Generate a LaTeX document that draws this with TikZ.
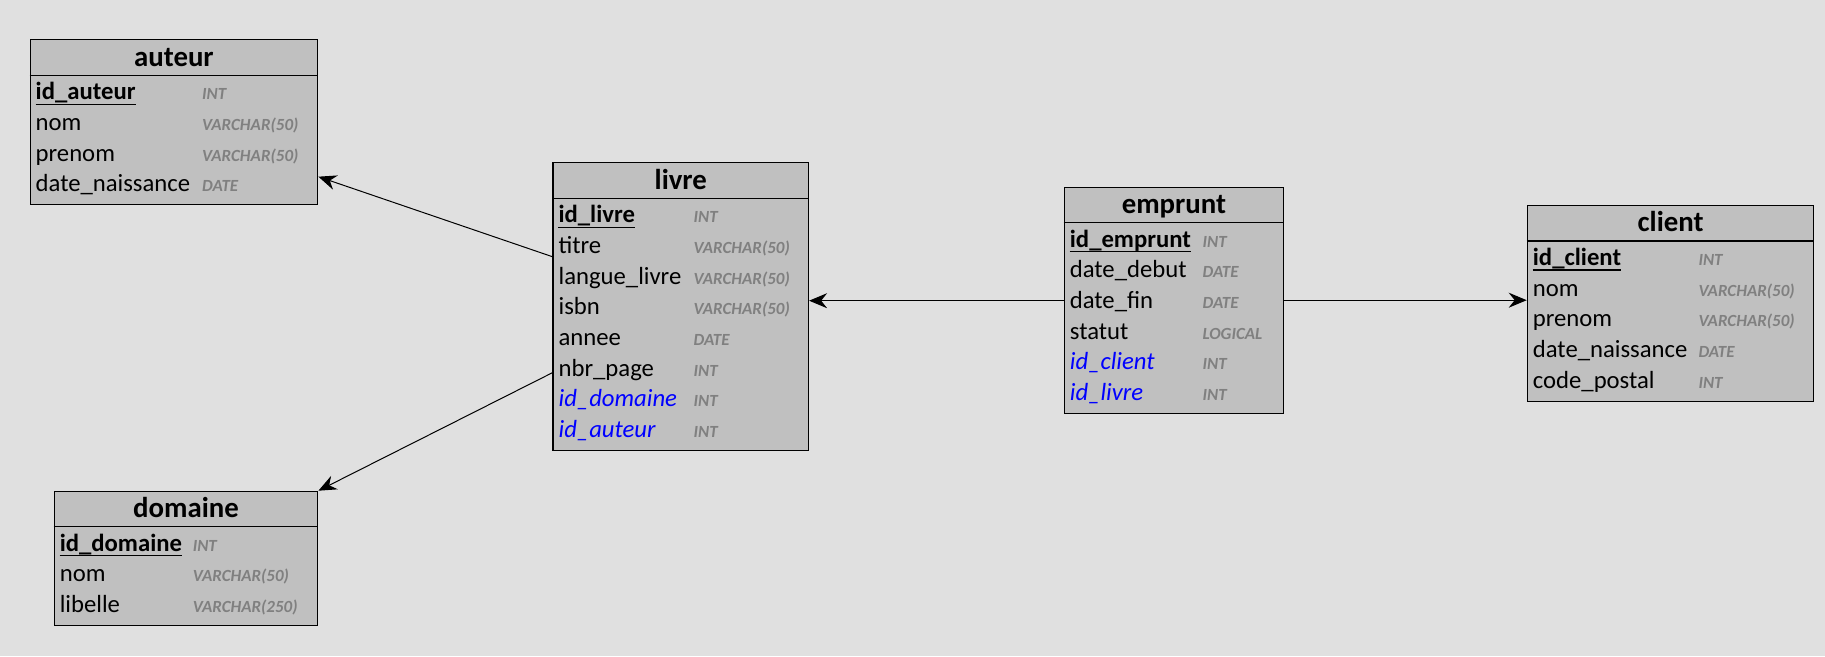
\documentclass[tikz,border=0pt]{standalone}
\usepackage{fontspec}
\setmainfont{Carlito}
\usepackage{tikz}
\usetikzlibrary{calc,arrows.meta}
\definecolor{fond}{HTML}{E0E0E0}
\definecolor{gristable}{HTML}{C0C0C0}
\definecolor{gristype}{HTML}{808080}
\definecolor{bleufk}{HTML}{0000FF}
\tikzset{table/.style={
    draw=black,
    line width=1.1pt,
    fill=gristable,
    anchor=north west,
    inner sep=0pt}}
\tikzset{separation/.style={
    draw=black,
    line width=1.1pt}}
\tikzset{titre/.style={
    font=\fontsize{28.8}{32}\selectfont\bfseries,
    anchor=base,
    inner sep=0pt}}
\tikzset{champ/.style={
    font=\fontsize{24.7}{28}\selectfont,
    anchor=base west,
    inner sep=0pt}}
\tikzset{cle/.style={
    champ,
    font=\fontsize{24.7}{28}\selectfont\bfseries}}
\tikzset{etranger/.style={
    champ,
    text=bleufk,
    font=\fontsize{24.7}{28}\selectfont\itshape}}
\tikzset{type/.style={
    font=\fontsize{17}{20}\selectfont\bfseries\itshape,
    text=gristype,
    anchor=base west,
    inner sep=0pt}}
\tikzset{souligne/.style={
    draw=black,
    line width=1.5pt}}
\tikzset{lien/.style={
    draw=black,
    line width=1pt,
    -{Stealth[length=18pt,width=15pt,inset=6pt]}}}

% boite : nom, coin, largeur, hauteur, titre
\newcommand{\boite}[5]{%
  \node[table,minimum width=#3pt,minimum height=#4pt] (#1) at (#2) {};
  \draw[separation] ($(#1.north west)+(0,36)$) -- ($(#1.north east)+(0,36)$);
  \node[titre] (#1-titre) at ($(#1.north)+(0,26.7)$) {#5};}
% colonnes : table, decalage du type, premier rang, style, liste
\newcommand{\colonnes}[5]{%
  \foreach \champ/\typ [count=\i from #3] in {#5}{
    \node[#4] (#1-c\i) at ($(#1.north west)+(6,60.3+\i*30.7)$) {\champ};
    \node[type] (#1-t\i) at ($(#1.north west)+(#2,60.3+\i*30.7)$) {\typ};}}
\newcommand{\cle}[1]{%
  \draw[souligne] ($(#1-c0.base west)+(0,4.7)$) -- ($(#1-c0.base east)+(0,4.7)$);}

\begin{document}
\begin{tikzpicture}[x=1pt,y=-1pt]
\fill[fond] (0,0) rectangle (1825,656);

\coordinate (A) at (29.5,39.3);
\coordinate (L) at (552.4,162.3);
\coordinate (E) at (1063.7,186.7);
\coordinate (C) at (1526.7,205);
\coordinate (D) at (53.6,490.7);

% auteur
\boite{auteur}{A}{287.8}{164.9}{auteur}
\colonnes{auteur}{172.5}{0}{cle}{id\_auteur/INT}
\cle{auteur}
\colonnes{auteur}{172.5}{1}{champ}{nom/VARCHAR(50),prenom/VARCHAR(50),date\_naissance/DATE}

% livre
\boite{livre}{L}{255.6}{287.7}{livre}
\colonnes{livre}{141}{0}{cle}{id\_livre/INT}
\cle{livre}
\colonnes{livre}{141}{1}{champ}{titre/VARCHAR(50),langue\_livre/VARCHAR(50),isbn/VARCHAR(50),annee/DATE,nbr\_page/INT}
\colonnes{livre}{141}{6}{etranger}{id\_domaine/INT,id\_auteur/INT}

% emprunt
\boite{emprunt}{E}{219.3}{226.3}{emprunt}
\colonnes{emprunt}{138.7}{0}{cle}{id\_emprunt/INT}
\cle{emprunt}
\colonnes{emprunt}{138.7}{1}{champ}{date\_debut/DATE,date\_fin/DATE,statut/LOGICAL}
\colonnes{emprunt}{138.7}{4}{etranger}{id\_client/INT,id\_livre/INT}

% client
\boite{client}{C}{286.6}{195.6}{client}
\colonnes{client}{171.6}{0}{cle}{id\_client/INT}
\cle{client}
\colonnes{client}{171.6}{1}{champ}{nom/VARCHAR(50),prenom/VARCHAR(50),date\_naissance/DATE,code\_postal/INT}

% domaine
\boite{domaine}{D}{263.7}{134.2}{domaine}
\colonnes{domaine}{139}{0}{cle}{id\_domaine/INT}
\cle{domaine}
\colonnes{domaine}{139}{1}{champ}{nom/VARCHAR(50),libelle/VARCHAR(250)}

% liens
\coordinate (livre-auteur) at ($(livre.north west)+(0,94.4)$);
\coordinate (auteur-livre) at ($(auteur.north east)+(0,137.4)$);
\coordinate (livre-domaine) at ($(livre.north west)+(0,210.4)$);
\coordinate (emprunt-g) at ($(emprunt.north west)+(0,114)$);
\coordinate (emprunt-d) at ($(emprunt.north east)+(0,113.5)$);
\draw[lien] (livre-auteur) -- (auteur-livre);
\draw[lien] (livre-domaine) -- (domaine.north east);
\draw[lien] (emprunt-g) -- (emprunt-g -| livre.east);
\draw[lien] (emprunt-d) -- (emprunt-d -| client.west);
\end{tikzpicture}
\end{document}
